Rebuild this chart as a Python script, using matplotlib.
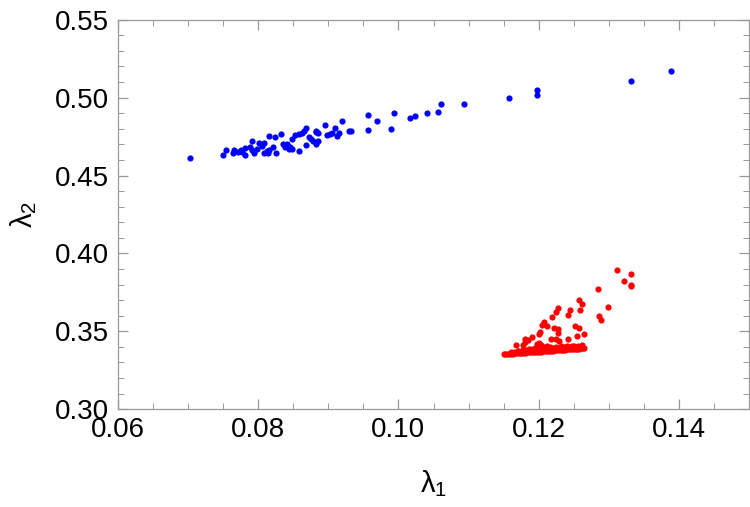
import matplotlib
matplotlib.use("Agg")
import matplotlib.pyplot as plt
from matplotlib.ticker import MultipleLocator, FormatStrFormatter

plt.rcParams['font.family'] = ['Liberation Sans', 'DejaVu Sans']
plt.rcParams['mathtext.fontset'] = 'custom'
plt.rcParams['mathtext.rm'] = 'Liberation Sans'
plt.rcParams['mathtext.it'] = 'Liberation Sans:italic'

# blue branch
blue_x = [0.0703, 0.0750, 0.0754, 0.0764, 0.0765, 0.0771, 0.0775, 0.0777, 0.0782,
          0.0782, 0.0788, 0.0791, 0.0792, 0.0794, 0.0798, 0.0801, 0.0806, 0.0809,
          0.0808, 0.0812, 0.0815, 0.0814, 0.0816, 0.0821, 0.0824, 0.0826, 0.0832,
          0.0835, 0.0838, 0.0841, 0.0844, 0.0846, 0.0849, 0.0849, 0.0853, 0.0858,
          0.0859, 0.0862, 0.0866, 0.0868, 0.0869, 0.0872, 0.0875, 0.0878, 0.0882,
          0.0883, 0.0882, 0.0886, 0.0886, 0.0895, 0.0898, 0.0903, 0.0906, 0.0909,
          0.0912, 0.0915, 0.0919, 0.0929, 0.0932,
          0.0956, 0.0969, 0.0956, 0.0989, 0.0994, 0.1016, 0.1024, 0.1041, 0.1056,
          0.1061, 0.1093, 0.1158, 0.1197, 0.1198, 0.1332, 0.1389]
blue_y = [0.4613, 0.4633, 0.4665, 0.4645, 0.4665, 0.4652, 0.4665, 0.4652, 0.4633,
          0.4677, 0.4684, 0.4722, 0.4665, 0.4645, 0.4671, 0.4710, 0.4690, 0.4710,
          0.4645, 0.4658, 0.4665, 0.4645, 0.4755, 0.4684, 0.4748, 0.4645, 0.4767,
          0.4703, 0.4684, 0.4703, 0.4671, 0.4684, 0.4671, 0.4735, 0.4761, 0.4767,
          0.4658, 0.4774, 0.4787, 0.4806, 0.4697, 0.4748, 0.4735, 0.4722, 0.4703,
          0.4780, 0.4787, 0.4722, 0.4774, 0.4825, 0.4761, 0.4767, 0.4774, 0.4806,
          0.4755, 0.4774, 0.4851, 0.4787, 0.4787,
          0.489, 0.485, 0.479, 0.480, 0.490, 0.487, 0.488, 0.490, 0.491,
          0.496, 0.496, 0.500, 0.505, 0.502, 0.511, 0.517]

# red branch: scattered points
red_x = [0.1312, 0.1332, 0.1321, 0.1332, 0.1331, 0.1285, 0.1258, 0.1262, 0.1298,
         0.1228, 0.1244, 0.1259, 0.1224, 0.1286, 0.1289, 0.1219, 0.1241, 0.1207,
         0.1204, 0.1212, 0.1252, 0.1257, 0.1222, 0.1227, 0.1202, 0.1227, 0.1264,
         0.1254, 0.1218, 0.1242, 0.1191, 0.1180, 0.1185, 0.1180, 0.1167, 0.1177,
         0.1229, 0.1224, 0.1200]
red_y = [0.3893, 0.3868, 0.3823, 0.3797, 0.3790, 0.3771, 0.3700, 0.3675, 0.3656,
         0.3649, 0.3636, 0.3636, 0.3623, 0.3598, 0.3572, 0.3591, 0.3604, 0.3559,
         0.3540, 0.3533, 0.3533, 0.3521, 0.3521, 0.3514, 0.3495, 0.3488, 0.3482,
         0.3469, 0.3450, 0.3450, 0.3463, 0.3450, 0.3443, 0.3431, 0.3411, 0.3411,
         0.3437, 0.3450, 0.3482]

# red branch: dense band near the bottom
band_x = [0.1150, 0.1152, 0.1155, 0.1158, 0.1160, 0.1163, 0.1165, 0.1168, 0.1170,
          0.1173, 0.1175, 0.1178, 0.1180, 0.1183, 0.1185, 0.1188, 0.1190, 0.1193,
          0.1195, 0.1198, 0.1200, 0.1203, 0.1205, 0.1208, 0.1210, 0.1213, 0.1215,
          0.1218, 0.1220, 0.1223, 0.1225, 0.1228, 0.1230, 0.1233, 0.1235, 0.1238,
          0.1240, 0.1243, 0.1245, 0.1248, 0.1250, 0.1253, 0.1255, 0.1258, 0.1260,
          0.1263, 0.1265,
          0.1160, 0.1165, 0.1170, 0.1175, 0.1180, 0.1185, 0.1190, 0.1195, 0.1200,
          0.1205, 0.1210, 0.1215, 0.1220, 0.1225, 0.1230, 0.1235, 0.1240, 0.1245,
          0.1250, 0.1255, 0.1260,
          0.1170, 0.1178, 0.1186, 0.1194, 0.1199, 0.1201, 0.1208, 0.1216, 0.1224,
          0.1232, 0.1240, 0.1248, 0.1256, 0.1262,
          0.1197, 0.1200, 0.1203, 0.1212, 0.1236, 0.1250]
band_y = [0.3353, 0.3354, 0.3355, 0.3356, 0.3356, 0.3357, 0.3358, 0.3359, 0.3360,
          0.3361, 0.3361, 0.3362, 0.3363, 0.3364, 0.3365, 0.3366, 0.3366, 0.3367,
          0.3368, 0.3369, 0.3369, 0.3370, 0.3371, 0.3372, 0.3373, 0.3374, 0.3374,
          0.3375, 0.3376, 0.3377, 0.3377, 0.3378, 0.3379, 0.3380, 0.3381, 0.3382,
          0.3383, 0.3384, 0.3385, 0.3386, 0.3386, 0.3387, 0.3388, 0.3389, 0.3390,
          0.3391, 0.3392,
          0.3365, 0.3368, 0.3372, 0.3375, 0.3378, 0.3380, 0.3383, 0.3386, 0.3388,
          0.3385, 0.3387, 0.3388, 0.3390, 0.3392, 0.3393, 0.3394, 0.3395, 0.3397,
          0.3398, 0.3400, 0.3402,
          0.3375, 0.3382, 0.3388, 0.3393, 0.3405, 0.3410, 0.3398, 0.3400, 0.3402,
          0.3404, 0.3405, 0.3406, 0.3408, 0.3410,
          0.3418, 0.3425, 0.3415, 0.3403, 0.3400, 0.3404]

fig = plt.figure(figsize=(7.5, 5.07), dpi=100)
ax = fig.add_axes([0.157, 0.193, 0.842, 0.768])

ax.scatter(blue_x, blue_y, s=20, color='#0000ff', linewidths=0, zorder=3)
ax.scatter(red_x, red_y, s=20, color='#ff0000', linewidths=0, zorder=3)
ax.scatter(band_x, band_y, s=20, color='#ff0000', linewidths=0, zorder=3)

ax.set_xlim(0.06, 0.15)
ax.set_ylim(0.30, 0.55)
ax.xaxis.set_major_locator(MultipleLocator(0.02))
ax.xaxis.set_minor_locator(MultipleLocator(0.005))
ax.yaxis.set_major_locator(MultipleLocator(0.05))
ax.yaxis.set_minor_locator(MultipleLocator(0.01))
ax.xaxis.set_major_formatter(FormatStrFormatter('%.2f'))
ax.yaxis.set_major_formatter(FormatStrFormatter('%.2f'))

for s in ax.spines.values():
    s.set_color('#999999')
    s.set_linewidth(0.9)
ax.tick_params(which='both', direction='in', top=True, right=True, color='#999999')
ax.tick_params(which='major', length=7, width=0.9, labelsize=20, pad=6)
ax.tick_params(which='minor', length=4, width=0.7)

ax.set_xlabel('λ$_1$', fontsize=21, labelpad=18)
ax.set_ylabel('λ$_2$', fontsize=21, labelpad=12)

fig.savefig('out.png', dpi=100)
